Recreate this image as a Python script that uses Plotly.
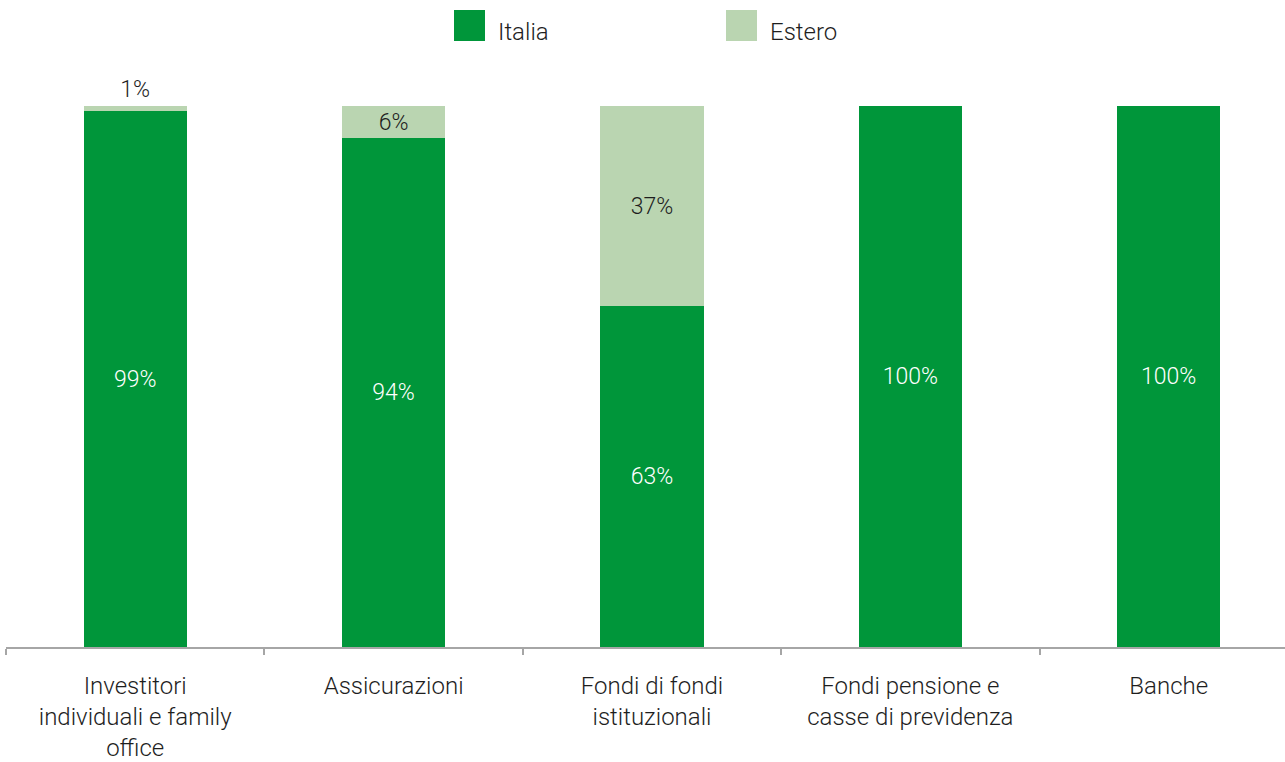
import plotly.graph_objects as go

# Investor categories (x axis) and share of commitments by origin
categories = [
    "Investitori<br>individuali e family<br>office",
    "Assicurazioni",
    "Fondi di fondi<br>istituzionali",
    "Fondi pensione e<br>casse di previdenza",
    "Banche",
]
italia = [99, 94, 63, 100, 100]
estero = [1, 6, 37, 0, 0]
series_names = ["Italia", "Estero"]

GREEN = "#00963A"
LIGHT = "#BAD5B1"
TEXT = "#1E1E1E"
FONT = "Roboto"
FS = 24
WEIGHT = 300

fig = go.Figure()

fig.add_trace(go.Bar(
    x=categories, y=italia, name=series_names[0],
    marker=dict(color=GREEN, line=dict(width=0)),
    width=0.4,
    text=[f"{v}%" if v else "" for v in italia],
    textposition="inside", insidetextanchor="middle",
    textangle=0, constraintext="none",
    textfont=dict(color="white", size=FS - 1, family=FONT, weight=WEIGHT),
    showlegend=False, hoverinfo="skip",
))

fig.add_trace(go.Bar(
    x=categories, y=estero, name=series_names[1],
    marker=dict(color=LIGHT, line=dict(width=0)),
    width=0.4,
    text=[f"{v}%" if v else "" for v in estero],
    textposition=["outside" if v < 3 else "inside" for v in estero],
    insidetextanchor="middle",
    textangle=0, constraintext="none", cliponaxis=False,
    textfont=dict(color=TEXT, size=FS - 1, family=FONT, weight=WEIGHT),
    showlegend=False, hoverinfo="skip",
))

# Legend drawn as large square swatches with labels
legend_items = [(series_names[0], GREEN, 454), (series_names[1], LIGHT, 726)]
W, H = 1285, 762
ML, MT, MB = 6, 106, 115
PW, PH = W - ML, H - MT - MB
shapes = []
annotations = []
for name, color, x0 in legend_items:
    shapes.append(dict(
        type="rect", xref="paper", yref="paper",
        x0=(x0 - ML) / PW, x1=(x0 + 31 - ML) / PW,
        y0=(H - MB - 41) / PH, y1=(H - MB - 10) / PH,
        fillcolor=color, line=dict(width=0), layer="above",
    ))
    annotations.append(dict(
        xref="paper", yref="paper",
        x=(x0 + 42 - ML) / PW, y=(H - MB - 32) / PH,
        xanchor="left", yanchor="middle", showarrow=False,
        text=name, font=dict(size=FS, color=TEXT, family=FONT, weight=WEIGHT),
    ))

fig.update_layout(
    width=W, height=H,
    barmode="stack",
    bargap=0.6,
    plot_bgcolor="white", paper_bgcolor="white",
    margin=dict(l=ML, r=0, t=MT, b=MB, autoexpand=False),
    font=dict(family=FONT, size=FS, color=TEXT, weight=WEIGHT),
    shapes=shapes,
    annotations=annotations,
)

fig.update_xaxes(
    type="category",
    range=[-0.5, 4.45],
    showline=True, linecolor="#A6A6A6", linewidth=2,
    ticks="outside", tickson="boundaries", ticklen=6, tickwidth=2,
    tickcolor="#A6A6A6",
    ticklabelstandoff=16,
    tickfont=dict(size=FS, color=TEXT, family=FONT, weight=WEIGHT),
    showgrid=False, zeroline=False, automargin=False,
    fixedrange=True,
)
fig.update_yaxes(visible=False, range=[0, 100], fixedrange=True)

fig.write_html("out.html")
